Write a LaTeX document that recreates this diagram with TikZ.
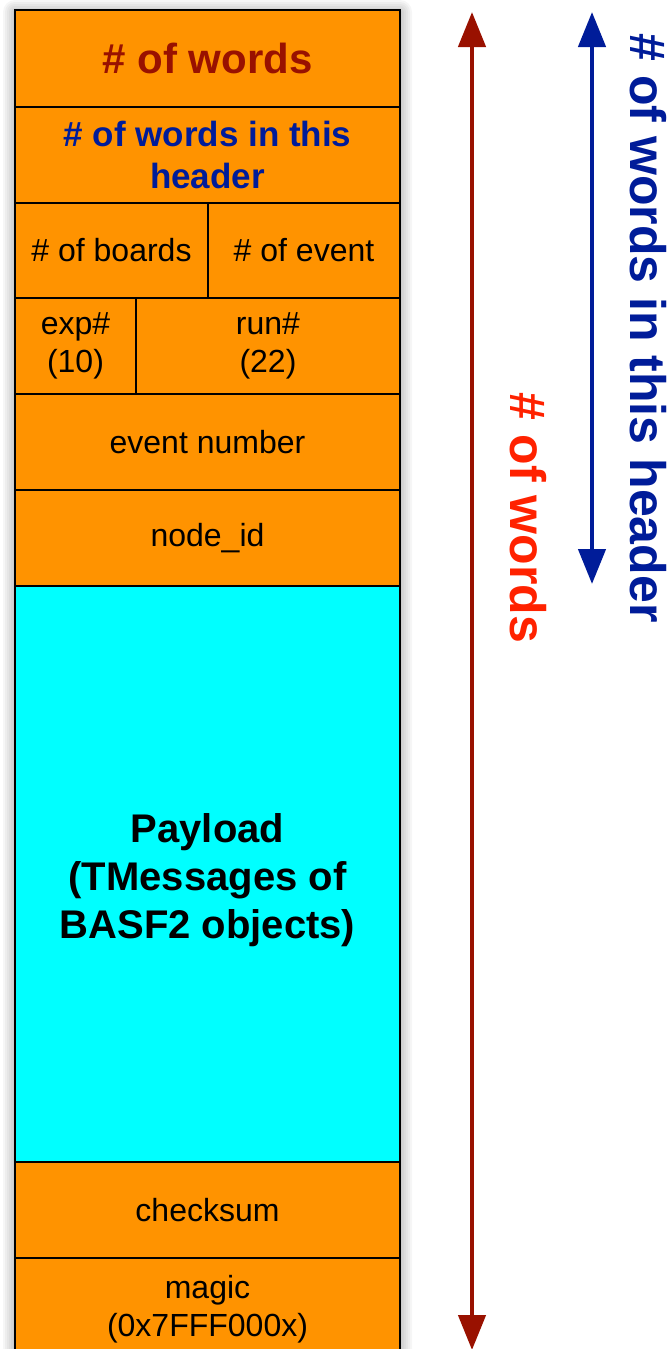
\documentclass[tikz,border=0pt]{standalone}
\usepackage{fontspec}
\setmainfont{Liberation Sans}
\usepackage{xcolor}
\usetikzlibrary{arrows.meta}
\definecolor{boxorange}{HTML}{FF9300}
\definecolor{boxcyan}{HTML}{00FFFF}
\definecolor{wordred}{HTML}{991100}
\definecolor{hdrblue}{HTML}{001C99}
\definecolor{lblred}{HTML}{FF2200}
\tikzset{
  cell/.style={draw=black, fill=boxorange, line width=2pt, inner sep=0pt, align=center,
               minimum height=96pt, font=\fontsize{32}{38}\selectfont},
  fullcell/.style={cell, minimum width=385pt},
  span/.style={line width=4.5pt, {Triangle[length=35pt,width=27pt]}-{Triangle[length=35pt,width=27pt]}},
  spanlabel/.style={rotate=-90, inner sep=0pt, font=\fontsize{50}{60}\selectfont\bfseries}
}

\begin{document}
\begin{tikzpicture}[x=1pt, y=-1pt]
      \useasboundingbox (0, 0) rectangle (668, 1349);
      % soft shadow
      \foreach \d in {2, 4, ..., 12}
        \fill[black, opacity=0.035, rounded corners=\d pt] (15-\d, 12-\d) rectangle (400+\d, 1356+\d);

      \node[fullcell, minimum height=97pt, text=wordred, font=\fontsize{42}{50}\selectfont\bfseries] (Words) at (207.5, 58.5) {\# of words};
      \node[fullcell, text=hdrblue, font=\fontsize{35}{42}\selectfont\bfseries] (HdrWords) at (207.5, 155) {\# of words in this\\header};
        \node[cell, minimum width=193pt, minimum height=95pt] (Boards) at (111.5, 250.5) {\# of boards};
        \node[cell, minimum width=192pt, minimum height=95pt] (Events) at (304, 250.5) {\# of event};
        \node[cell, minimum width=121pt] (Exp) at (75.5, 346) {exp\#\\(10)};
        \node[cell, minimum width=264pt] (Run) at (268, 346) {run\#\\(22)};
      \node[fullcell] (EvtNum) at (207.5, 442) {event number};
      \node[fullcell] (NodeId) at (207.5, 538) {node\_id};
      \node[fullcell, fill=boxcyan, minimum height=576pt] (Payload) at (207.5, 874) {};
      \node[align=center, inner sep=0pt, font=\fontsize{40}{48}\selectfont\bfseries] (PayloadTxt) at (207.5, 880) {Payload\\(TMessages of\\BASF2 objects)};
      \node[fullcell] (Checksum) at (207.5, 1210) {checksum};
      \node[fullcell] (Magic) at (207.5, 1306) {};
      \node[align=center, inner sep=0pt, font=\fontsize{32}{38}\selectfont] (MagicTxt) at (207.5, 1309) {magic\\(0x7FFF000x)};

      \coordinate (WordsTop) at (472, 12);
      \coordinate (WordsBot) at (472, 1350);
      \coordinate (HdrTop) at (592, 12);
      \coordinate (HdrBot) at (592, 584);
      \draw[span, wordred] (WordsTop) -- (WordsBot);
      \draw[span, hdrblue] (HdrTop) -- (HdrBot);

      \node[spanlabel, text=lblred] (WordsLbl) at (528, 518) {\# of words};
      \node[spanlabel, text=hdrblue] (HdrLbl) at (648, 328) {\# of words in this header};
    \end{tikzpicture}
\end{document}
